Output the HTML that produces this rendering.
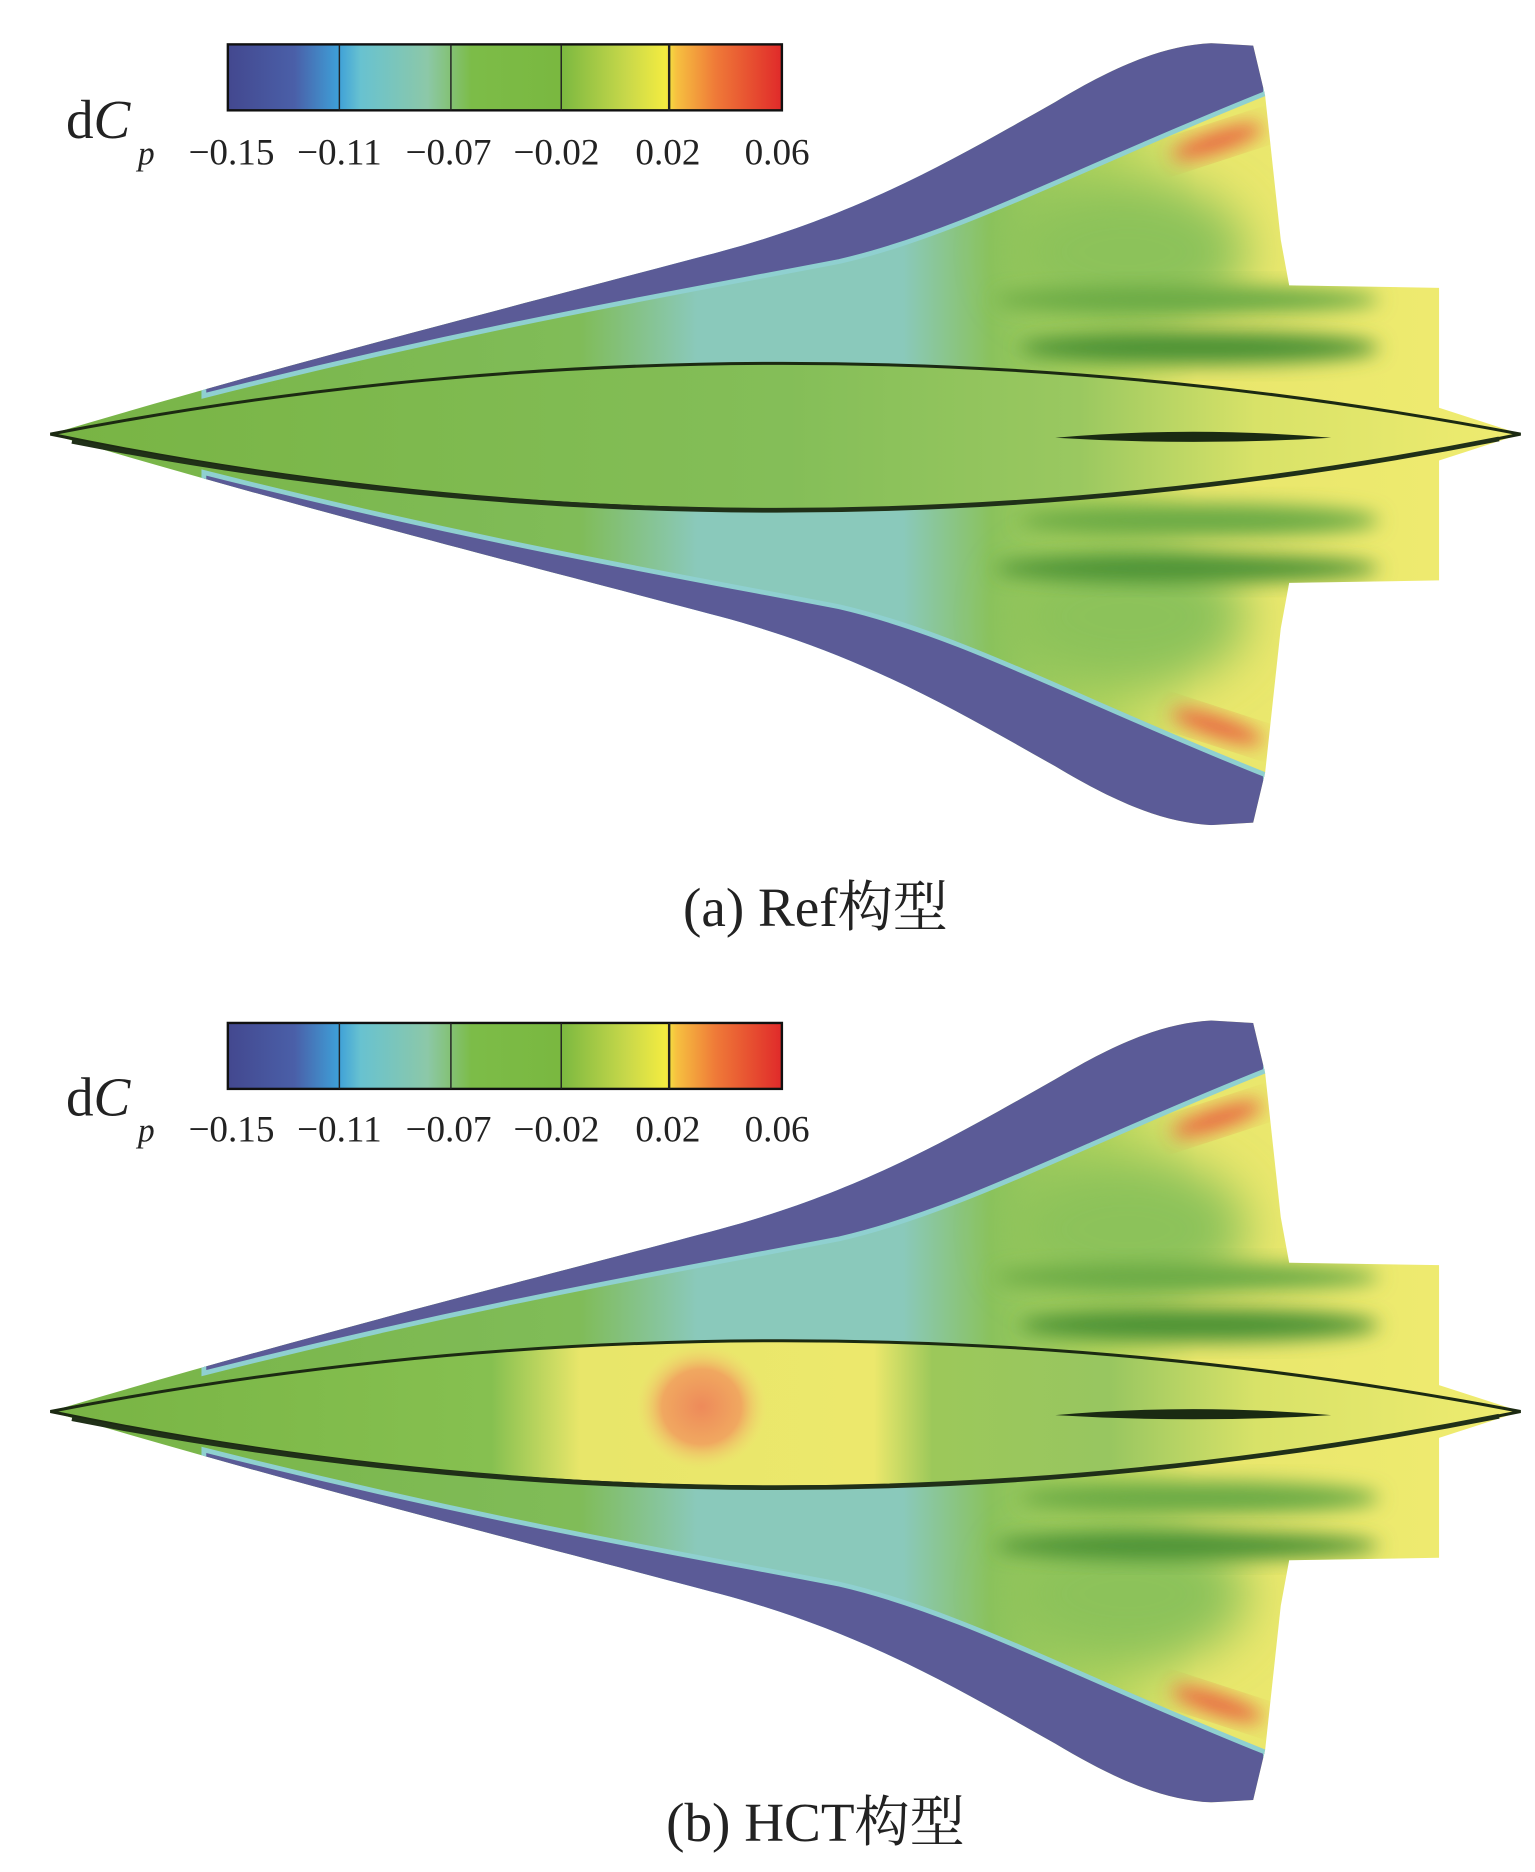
<!DOCTYPE html>
<html><head><meta charset="utf-8"><style>
html,body{margin:0;padding:0;background:#fff;}
svg{display:block;}
</style></head><body>
<svg width="1535" height="1872" viewBox="0 0 1280 1561" xmlns="http://www.w3.org/2000/svg">
<defs>
<linearGradient id="cb" x1="0" x2="1" y1="0" y2="0">
<stop offset="0" stop-color="#43488f"/><stop offset="0.12" stop-color="#4a5fa8"/><stop offset="0.2" stop-color="#3ea0d8"/>
<stop offset="0.24" stop-color="#68c2d0"/><stop offset="0.36" stop-color="#8cc8a8"/><stop offset="0.44" stop-color="#7cbc48"/>
<stop offset="0.6" stop-color="#7ab840"/><stop offset="0.72" stop-color="#c8d84a"/><stop offset="0.79" stop-color="#f4ec40"/>
<stop offset="0.81" stop-color="#f6c040"/><stop offset="0.88" stop-color="#ef7a38"/><stop offset="1" stop-color="#e02a2a"/>
</linearGradient>
<linearGradient id="base" gradientUnits="userSpaceOnUse" x1="42" x2="1268" y1="0" y2="0">
<stop offset="0" stop-color="#78b446"/><stop offset="0.36" stop-color="#80bc58"/><stop offset="0.44" stop-color="#8ac9bb"/>
<stop offset="0.58" stop-color="#8ac9bb"/><stop offset="0.64" stop-color="#8ac25c"/><stop offset="0.72" stop-color="#b8d65e"/>
<stop offset="0.78" stop-color="#e8e66c"/><stop offset="1" stop-color="#f0ec70"/>
</linearGradient>
<linearGradient id="fus" gradientUnits="userSpaceOnUse" x1="42" x2="1268" y1="0" y2="0">
<stop offset="0" stop-color="#78b444"/><stop offset="0.5" stop-color="#84be58"/><stop offset="0.7" stop-color="#9ac860"/>
<stop offset="0.82" stop-color="#d8e268"/><stop offset="1" stop-color="#f0ec70"/>
</linearGradient>
<linearGradient id="fusb" gradientUnits="userSpaceOnUse" x1="42" x2="1268" y1="0" y2="0">
<stop offset="0" stop-color="#78b444"/><stop offset="0.3" stop-color="#86c050"/><stop offset="0.36" stop-color="#e8e66a"/>
<stop offset="0.56" stop-color="#ece86c"/><stop offset="0.6" stop-color="#9cc85a"/><stop offset="0.72" stop-color="#98c660"/>
<stop offset="0.82" stop-color="#d8e268"/><stop offset="1" stop-color="#f0ec70"/>
</linearGradient>
<radialGradient id="hot"><stop offset="0" stop-color="#ee8a5a"/><stop offset="0.6" stop-color="#f0a860"/><stop offset="1" stop-color="#f0d870" stop-opacity="0"/></radialGradient>
<filter id="bl" x="-50%" y="-50%" width="200%" height="200%"><feGaussianBlur stdDeviation="8"/></filter>
<filter id="bl2" x="-50%" y="-50%" width="200%" height="200%"><feGaussianBlur stdDeviation="20"/></filter>
<clipPath id="pl"><path d="M42,362 C250,300 450,250 600,210 C720,178 800,130 880,85 C930,55 970,38 1010,36 L1045,38 L1055,80 L1068,200 L1075,238 L1200,240 L1200,340 L1268,362 L1200,384 L1200,484 L1075,486 L1068,524 L1055,644 L1045,686 L1010,688 C970,686 930,669 880,639 C800,594 720,546 600,514 C450,474 250,424 42,362 Z"/></clipPath>
<g id="plane">
<g clip-path="url(#pl)">
<rect x="0" y="0" width="1280" height="730" fill="url(#base)"/>
<ellipse cx="940" cy="210" rx="100" ry="60" fill="#8cc25a" filter="url(#bl2)"/>
<ellipse cx="940" cy="514" rx="100" ry="60" fill="#8cc25a" filter="url(#bl2)"/>
<ellipse cx="990" cy="250" rx="160" ry="12" fill="#6aaa44" filter="url(#bl)"/>
<ellipse cx="1000" cy="290" rx="150" ry="14" fill="#4c9234" filter="url(#bl)"/>
<ellipse cx="990" cy="474" rx="160" ry="12" fill="#4c9234" filter="url(#bl)"/>
<ellipse cx="1000" cy="434" rx="150" ry="14" fill="#6aaa44" filter="url(#bl)"/>
<path d="M170,330 C400,272 560,245 700,218 C800,195 900,140 1055,78 L1060,20 L900,20 L170,300 Z" fill="#5b5b97" stroke="#8fd0d0" stroke-width="4"/>
<path d="M170,394 C400,452 560,479 700,506 C800,529 900,584 1055,646 L1060,704 L900,704 L170,424 Z" fill="#5b5b97" stroke="#8fd0d0" stroke-width="4"/>
<ellipse cx="1015" cy="118" rx="40" ry="8" transform="rotate(-18 1015 118)" fill="#e84a38" filter="url(#bl)" opacity="0.9"/>
<ellipse cx="1015" cy="606" rx="40" ry="8" transform="rotate(18 1015 606)" fill="#e84a38" filter="url(#bl)" opacity="0.9"/>
</g>
</g>
</defs>

<!-- Panel a -->
<use href="#plane"/>
<path d="M42,362 Q650,244 1268,362 Q650,488 42,362 Z" fill="url(#fus)" stroke="#1c2a12" stroke-width="2.5"/>
<path d="M60,368 Q650,484 1250,366" fill="none" stroke="#203018" stroke-width="4"/>
<path d="M880,365 Q995,355 1110,365 Q995,372 880,365 Z" fill="#1a2a12"/>
<rect x="190" y="37" width="462" height="55" fill="url(#cb)" stroke="#111" stroke-width="2"/>
<g stroke="#222" stroke-width="1.2"><line x1="283" y1="37" x2="283" y2="92"/><line x1="376" y1="37" x2="376" y2="92"/><line x1="468" y1="37" x2="468" y2="92"/><line x1="558" y1="37" x2="558" y2="92" stroke-width="2"/></g>
<g font-family="Liberation Serif, serif" fill="#222">
<text x="55" y="115" font-size="46">d<tspan font-style="italic">C</tspan></text>
<text x="115" y="137" font-size="28" font-style="italic">p</text>
<g font-size="31" text-anchor="middle"><text x="193" y="137">−0.15</text><text x="283" y="137">−0.11</text><text x="374" y="137">−0.07</text><text x="464" y="137">−0.02</text><text x="557" y="137">0.02</text><text x="648" y="137">0.06</text></g>
<text x="680" y="772" font-size="46" text-anchor="middle" font-family="Liberation Serif, 'Noto Serif CJK SC', serif">(a) Ref构型</text>
</g>

<!-- Panel b -->
<g transform="translate(0,815)">
<use href="#plane"/>
<path d="M42,362 Q650,244 1268,362 Q650,488 42,362 Z" fill="url(#fusb)" stroke="#1c2a12" stroke-width="2.5"/>
<ellipse cx="585" cy="358" rx="55" ry="52" fill="url(#hot)"/>
<path d="M60,368 Q650,484 1250,366" fill="none" stroke="#203018" stroke-width="4"/>
<path d="M880,365 Q995,355 1110,365 Q995,372 880,365 Z" fill="#1a2a12"/>
<rect x="190" y="38" width="462" height="55" fill="url(#cb)" stroke="#111" stroke-width="2"/>
<g stroke="#222" stroke-width="1.2"><line x1="283" y1="38" x2="283" y2="93"/><line x1="376" y1="38" x2="376" y2="93"/><line x1="468" y1="38" x2="468" y2="93"/><line x1="558" y1="38" x2="558" y2="93" stroke-width="2"/></g>
<g font-family="Liberation Serif, serif" fill="#222">
<text x="55" y="115" font-size="46">d<tspan font-style="italic">C</tspan></text>
<text x="115" y="137" font-size="28" font-style="italic">p</text>
<g font-size="31" text-anchor="middle"><text x="193" y="137">−0.15</text><text x="283" y="137">−0.11</text><text x="374" y="137">−0.07</text><text x="464" y="137">−0.02</text><text x="557" y="137">0.02</text><text x="648" y="137">0.06</text></g>
<text x="680" y="720" font-size="46" text-anchor="middle" font-family="Liberation Serif, 'Noto Serif CJK SC', serif">(b) HCT构型</text>
</g>
</svg>
</body></html>
